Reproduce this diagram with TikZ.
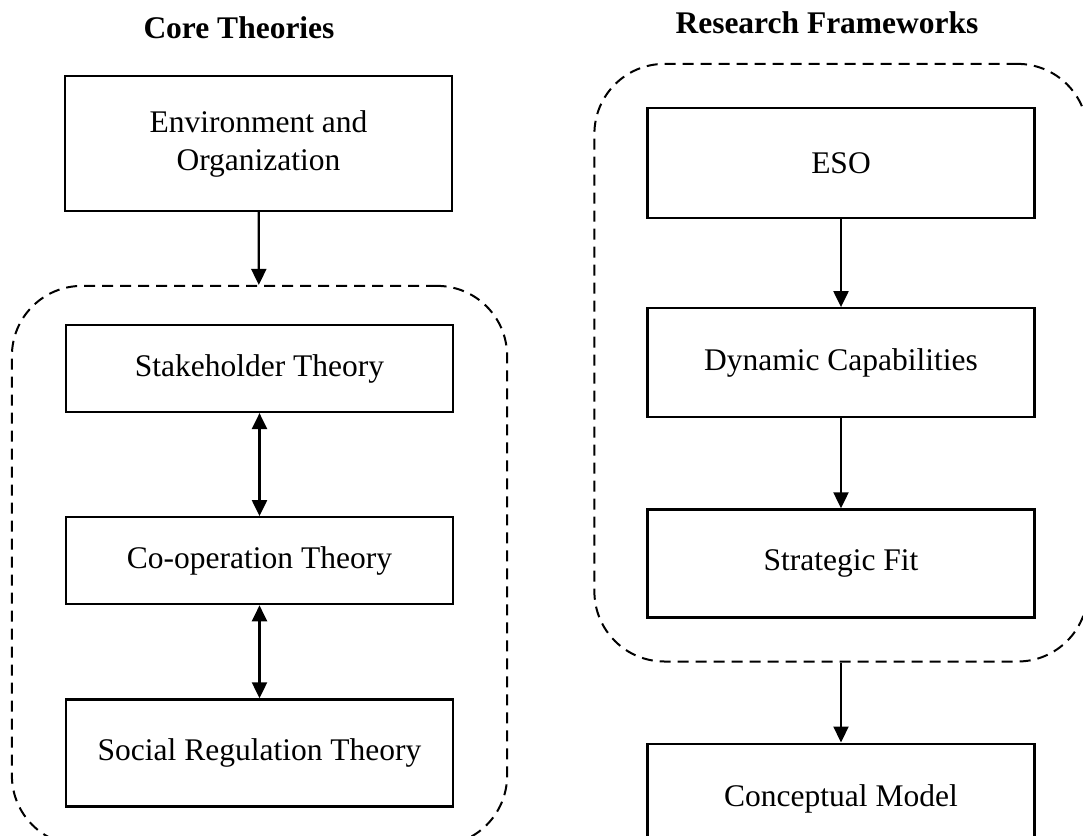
\documentclass[tikz,border=0pt]{standalone}
\usepackage{fontspec}
\setmainfont{Liberation Serif}
\usetikzlibrary{fit,positioning,arrows.meta}

\begin{document}
\begin{tikzpicture}[x=0.5pt,y=-0.5pt,font=\fontsize{15.75pt}{19pt}\selectfont]
	\tikzstyle{box}=[rectangle, draw=black, line width=1.1pt, minimum width=193.5pt, minimum height=43.5pt, align=center]
	\tikzstyle{connect}=[-{Triangle[length=8pt,width=7.5pt]}, line width=1.1pt]
	\tikzstyle{twoway}=[{Triangle[length=8pt,width=7.5pt]}-{Triangle[length=8pt,width=7.5pt]}, line width=1.1pt]
	\tikzstyle{group}=[rectangle, draw=black, line width=1pt, dash pattern=on 5.5pt off 3.5pt, rounded corners=35pt]
	\tikzstyle{head}=[font=\fontsize{15.75pt}{19pt}\selectfont\bfseries]
	\useasboundingbox (0,0) rectangle (1083,836);
	% left column
	\node[head] (core) at (239,28) {Core Theories};
	\node[box, minimum height=67.5pt] (env) at (258.5,143.5) {Environment and\\Organization};
	\node[box] (stake) at (259.5,368.5) {Stakeholder Theory};
	\node[box] (coop) [below=51.5pt of stake] {Co-operation Theory};
	\node[box, minimum height=53.5pt] (social) [below=46.5pt of coop] {Social Regulation Theory};
	\node[group, inner xsep=26.5pt, inner ysep=19pt, fit=(stake) (coop) (social)] (coregroup) {};
	% right column
	\node[head] (research) at (827,23) {Research Frameworks};
	\node[box, minimum height=55pt] (eso) at (841,163) {ESO};
	\node[box, minimum height=54.5pt] (dyn) [below=44pt of eso] {Dynamic Capabilities};
	\node[box, minimum height=54pt] (fit) [below=45pt of dyn] {Strategic Fit};
	\node[group, inner xsep=26pt, inner ysep=21.5pt, fit=(eso) (dyn) (fit)] (framegroup) {};
	\node[box, minimum height=55pt] (concept) [below=40pt of framegroup] {Conceptual Model};

	\path (env) edge [connect] (coregroup)
	(stake) edge [twoway] (coop)
	(coop) edge [twoway] (social)
	(eso) edge [connect] (dyn)
	(dyn) edge [connect] (fit)
	(framegroup) edge [connect] (concept);
\end{tikzpicture}
\end{document}
